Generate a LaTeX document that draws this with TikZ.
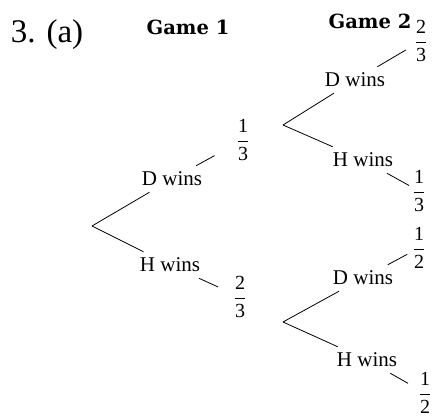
\documentclass[tikz,border=0pt]{standalone}
\usepackage{amsmath}
\usepackage{fontspec}
\setmainfont{Liberation Serif}
\newfontfamily\gamefont{DejaVu Serif}
\newcommand\fr[2]{$\dfrac{\mbox{#1}}{\mbox{#2}}$}
\begin{document}
\begin{tikzpicture}[x=1pt,y=-1pt,
  lab/.style={font=\fontsize{21}{21}\selectfont, inner xsep=2pt, inner ysep=6pt},
  frc/.style={font=\fontsize{20}{24}\selectfont, inner sep=1pt},
  ttl/.style={font=\gamefont\bfseries\fontsize{19.5}{20}\selectfont, inner sep=0pt},
  edge/.style={line width=0.8pt}]
\useasboundingbox (0,0) rectangle (436,418);
\node[font=\fontsize{33}{34}\selectfont, inner sep=0pt] (q) at (47,35) {3. (a)};
\node[ttl] (g1) at (188,27) {Game 1};
\node[ttl] (g2) at (370,21) {Game 2};
\coordinate (R) at (92,226);
\node[lab] (dw1) at (172,179) {D wins};
\node[frc] (f1) at (243,140) {\fr13};
\node[lab] (hw1) at (170,265) {H wins};
\node[frc] (f2) at (240,297) {\fr23};
\coordinate (V1) at (283,125);
\coordinate (V2) at (283,322);
\node[lab] (dw2) at (355,80) {D wins};
\node[frc] (f3) at (421,41) {\fr23};
\node[lab] (hw2) at (363,160) {H wins};
\node[frc] (f4) at (419,191) {\fr13};
\node[lab] (dw3) at (363,278) {D wins};
\node[frc] (f5) at (419,248) {\fr12};
\node[lab] (hw3) at (367,360) {H wins};
\node[frc] (f6) at (425,393) {\fr12};
\draw[edge] (R) -- (dw1);
\draw[edge, shorten >=24pt] (dw1) -- (f1);
\draw[edge] (R) -- (hw1);
\draw[edge, shorten >=16pt] (hw1) -- (f2);
\draw[edge] (V1) -- (dw2);
\draw[edge, shorten >=9pt] (dw2) -- (f3);
\draw[edge] (V1) -- (hw2);
\draw[edge, shorten >=3pt] (hw2) -- (f4);
\draw[edge] (V2) -- (dw3);
\draw[edge, shorten >=5pt] (dw3) -- (f5);
\draw[edge] (V2) -- (hw3);
\draw[edge, shorten >=11pt] (hw3) -- (f6);
\end{tikzpicture}
\end{document}
